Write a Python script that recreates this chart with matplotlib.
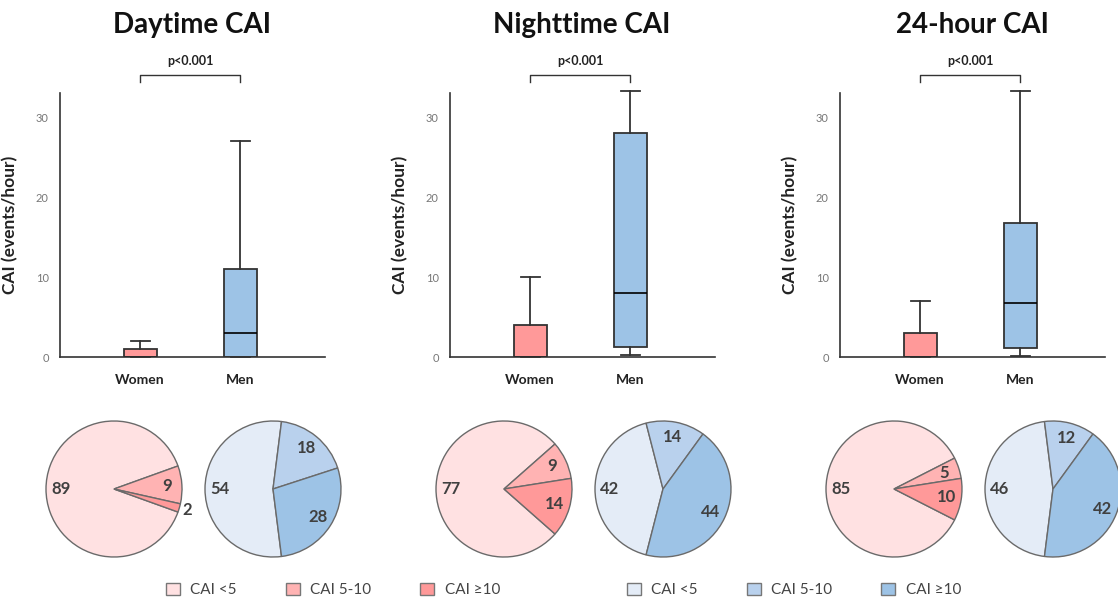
import numpy as np
import matplotlib.pyplot as plt
from matplotlib.patches import Patch

plt.rcParams['font.family'] = ['Lato', 'DejaVu Sans']

# Data
panels = ["Daytime CAI", "Nighttime CAI", "24-hour CAI"]
groups = ["Women", "Men"]
# box stats per panel: [whislo, q1, med, q3, whishi]
women_box = [[0, 0, 0, 1, 2], [0, 0, 0, 4, 10], [0, 0, 0, 3, 7]]
men_box = [[0, 0, 3, 11, 27], [0.2, 1.2, 8, 28, 33.2], [0.1, 1.1, 6.8, 16.8, 33.3]]
p_text = ["p<0.001", "p<0.001", "p<0.001"]
# share (%) of CAI <5, 5-10, >=10
women_pct = [[89, 9, 2], [77, 9, 14], [85, 5, 10]]
men_pct = [[54, 18, 28], [42, 14, 44], [46, 12, 42]]
cai_classes = ["CAI <5", "CAI 5-10", "CAI \u226510"]

red = "#ff9999"
blue = "#9dc3e6"
women_cols = ["#ffe1e2", "#ffb3b3", "#ff9999"]
men_cols = ["#e4ecf7", "#b9d1ed", "#9dc3e6"]
dark = "#333333"

W, H = 1118, 604
fig = plt.figure(figsize=(W / 100, H / 100), dpi=100)


def px_axes(x0, y0, w, h):
    # axes from pixel box (top-left origin)
    return fig.add_axes([x0 / W, 1 - (y0 + h) / H, w / W, h / H])


def stats(v, label):
    return dict(whislo=v[0], q1=v[1], med=v[2], q3=v[3], whishi=v[4], label=label, fliers=[])


axis_left = [60, 450, 840]
for i, title in enumerate(panels):
    x0 = axis_left[i]
    ax = px_axes(x0, 93, 265, 264)
    bp = ax.bxp([stats(women_box[i], groups[0]), stats(men_box[i], groups[1])],
                positions=[1, 2], widths=0.33, patch_artist=True, capwidths=0.19,
                boxprops=dict(edgecolor=dark, linewidth=1.3),
                medianprops=dict(color="black", linewidth=1.2),
                whiskerprops=dict(color=dark, linewidth=1.3),
                capprops=dict(color=dark, linewidth=1.3))
    bp['boxes'][0].set_facecolor(red)
    bp['boxes'][1].set_facecolor(blue)
    for ln in bp['whiskers'] + bp['caps']:
        ln.set_clip_on(False)
    ax.set_xlim(0.2, 2.85)
    ax.set_ylim(0, 33)
    ax.set_yticks([0, 10, 20, 30])
    ax.tick_params(axis='y', length=0, labelsize=8, labelcolor="#777777", pad=8)
    ax.tick_params(axis='x', length=0, pad=12)
    ax.set_xticklabels(groups, fontsize=10, fontweight='bold', color="#222222")
    for s in ['top', 'right']:
        ax.spines[s].set_visible(False)
    for s in ['left', 'bottom']:
        ax.spines[s].set_color(dark)
        ax.spines[s].set_linewidth(1.2)
    ax.set_ylabel("CAI (events/hour)", fontsize=12.5, fontweight='bold', color="#222222")
    ax.yaxis.set_label_coords(-0.158, 0.5)

    # significance bracket
    yb, yt = 34.4, 35.3
    ax.plot([1, 1, 2, 2], [yb, yt, yt, yb], color=dark, lw=1, clip_on=False)
    ax.text(1.5, 36.2, p_text[i], ha='center', va='bottom', fontsize=9,
            fontweight='bold', color="#222222")

    fig.text((x0 + 132) / W, 1 - 25 / H, title, ha='center', va='center',
             fontsize=20, fontweight='bold', color="#111111")

    # pies
    for pct, cols, cx in [(women_pct[i], women_cols, x0 + 54), (men_pct[i], men_cols, x0 + 213)]:
        size = 170
        pax = px_axes(cx - size / 2, 489 - size / 2, size, size)
        lim = size / 136
        wedges, _ = pax.pie(pct, colors=cols, counterclock=False,
                            startangle=180 + pct[0] * 1.8,
                            wedgeprops=dict(edgecolor="#6a6a6a", linewidth=1, clip_on=False))
        pax.set_xlim(-lim, lim)
        pax.set_ylim(-lim, lim)
        pax.set_aspect('equal')
        pax.axis('off')
        for wdg, v in zip(wedges, pct):
            mid = np.deg2rad((wdg.theta1 + wdg.theta2) / 2)
            r = 1.12 if v < 4 else 0.78
            pax.text(r * np.cos(mid), r * np.sin(mid), str(v), ha='center', va='center',
                     fontsize=12, fontweight='bold', color="#404040")

# legends
for cols, cx in [(women_cols, 333), (men_cols, 794)]:
    handles = [Patch(facecolor=c, edgecolor="#777777", linewidth=1) for c in cols]
    fig.legend(handles, cai_classes, loc='center', bbox_to_anchor=(cx / W, 14 / H),
               ncol=3, frameon=False, fontsize=11, handlelength=0.9, handleheight=0.9,
               handletextpad=0.7, columnspacing=3.2, labelcolor="#444444")

fig.savefig("out.png", dpi=100)
